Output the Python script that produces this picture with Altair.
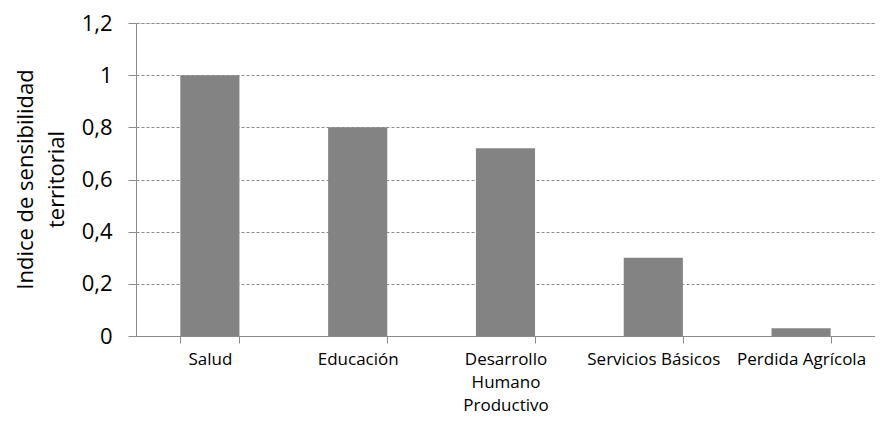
import altair as alt
import pandas as pd

categories = ["Salud", "Educación", "Desarrollo Humano Productivo", "Servicios Básicos", "Perdida Agrícola"]
values = [1.0, 0.8, 0.72, 0.3, 0.03]
y_ticks = [0, 0.2, 0.4, 0.6, 0.8, 1.0, 1.2]
y_title = ["Indice de sensibilidad", "territorial"]

df = pd.DataFrame({"categoria": categories, "indice": values})

FONT = "Open Sans"
GRID = "#8c8c8c"
AXIS = "#8a8a8a"

bars = alt.Chart(df).mark_bar(color="#838383").encode(
    x=alt.X(
        "categoria:N",
        sort=categories,
        scale=alt.Scale(paddingInner=0.6, paddingOuter=0.3),
        axis=alt.Axis(
            title=None,
            labelAngle=0,
            labelFont=FONT,
            labelFontSize=17,
            labelColor="#000000",
            labelPadding=8,
            labelLineHeight=23,
            labelBaseline="top",
            labelExpr="datum.label == 'Desarrollo Humano Productivo' ? ['Desarrollo', 'Humano', 'Productivo'] : datum.label",
            tickBand="extent",
            tickSize=7,
            tickColor=AXIS,
            domainColor=AXIS,
            grid=False,
            labelLimit=0,
        ),
    ),
    y=alt.Y(
        "indice:Q",
        scale=alt.Scale(domain=[0, 1.2], nice=False),
        axis=alt.Axis(
            title=y_title,
            values=y_ticks,
            titleFont=FONT,
            titleFontSize=22,
            titleFontWeight="normal",
            titleColor="#000000",
            titleLineHeight=31,
            titleX=-111,
            titleY=156,
            titleAngle=-90,
            titleAlign="center",
            titleBaseline="middle",
            labelFont=FONT,
            labelFontSize=22,
            labelColor="#000000",
            labelPadding=16,
            labelExpr="replace(format(datum.value, '.1~f'), '.', ',')",
            tickSize=8,
            tickColor=AXIS,
            domainColor=AXIS,
            grid=True,
            gridColor=GRID,
            gridDash=[3, 2],
            gridWidth=1,
        ),
    ),
)

chart = bars.properties(
    width=739,
    height=313,
    autosize=alt.AutoSizeParams(type="none"),
    padding={"left": 128, "top": 15, "right": 0, "bottom": 79},
).configure_view(stroke=None).configure(background="white")

chart.save("out.html", embed_options={"renderer": "svg", "actions": False})
